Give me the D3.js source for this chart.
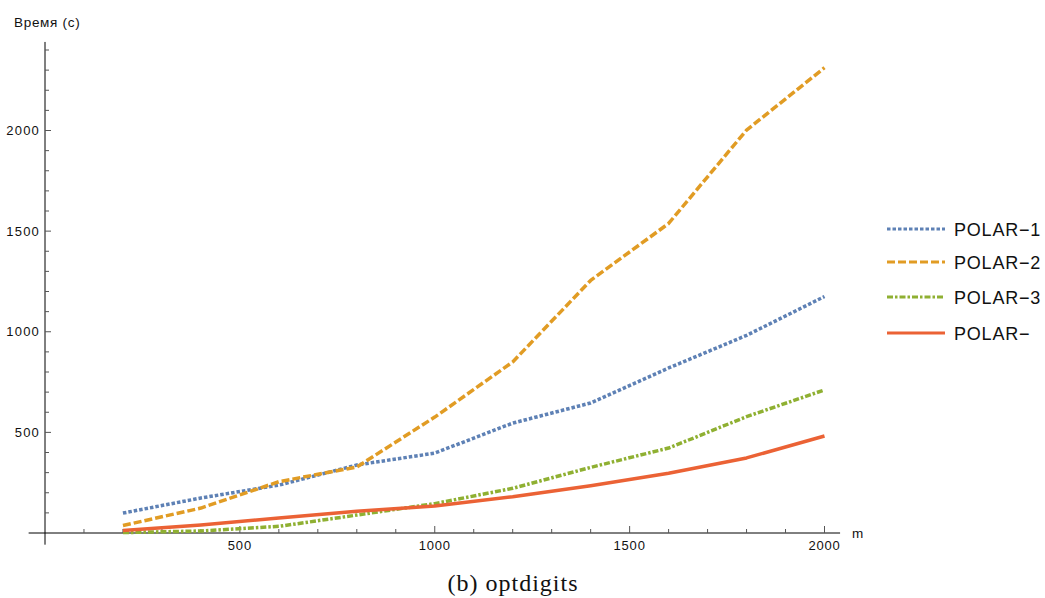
<!DOCTYPE html>
<html><head><meta charset="utf-8">
<script src="https://cdn.jsdelivr.net/npm/d3@7"></script>
<style>
body{margin:0;background:#fff;}
svg{display:block;}
.sans{font-family:"Liberation Sans",Arial,sans-serif;}
.serif{font-family:"Liberation Serif","DejaVu Serif",serif;}
</style></head>
<body>
<svg id="chart" width="1045" height="598"></svg>
<script>
const mValues = [200, 400, 600, 800, 1000, 1200, 1400, 1600, 1800, 2000];
const polar1 = [99, 174, 238, 338, 397, 546, 646, 820, 982, 1175];
const polar2 = [37, 124, 255, 328, 576, 850, 1255, 1538, 2002, 2312];
const polar3 = [2, 10, 33, 89, 146, 222, 326, 422, 578, 711];
const polarM = [12, 40, 75, 108, 134, 180, 235, 297, 373, 482];
const seriesNames = ["POLAR\u22121", "POLAR\u22122", "POLAR\u22123", "POLAR\u2212"];
const xTickLabels = [500, 1000, 1500, 2000];
const yTickLabels = [500, 1000, 1500, 2000];

const colors = ["#5E81B5", "#E19C24", "#8FB032", "#EB6235"];
const dashes = ["3.5,2", "8,3", "6,2,2.5,2", null];

const svg = d3.select("#chart");
const x = d3.scaleLinear().domain([0, 2000]).range([45, 824.5]);
const y = d3.scaleLinear().domain([0, 2000]).range([533, 130.5]);

const axisG = svg.append("g");
axisG.append("line").attr("x1", x(-42)).attr("x2", x(2040)).attr("y1", y(0)).attr("y2", y(0))
  .attr("stroke", "#000").attr("stroke-width", 1);
axisG.append("line").attr("x1", x(0)).attr("x2", x(0)).attr("y1", y(-58)).attr("y2", y(2440))
  .attr("stroke", "#000").attr("stroke-width", 1);

d3.range(100, 2001, 100).forEach(v => {
  const major = v % 500 === 0;
  axisG.append("line").attr("x1", x(v)).attr("x2", x(v))
    .attr("y1", y(0)).attr("y2", y(0) - (major ? 7 : 4))
    .attr("stroke", "#555").attr("stroke-width", 1);
});
d3.range(100, 2401, 100).forEach(v => {
  const major = v % 500 === 0;
  axisG.append("line").attr("y1", y(v)).attr("y2", y(v))
    .attr("x1", x(0)).attr("x2", x(0) + (major ? 6 : 4))
    .attr("stroke", "#555").attr("stroke-width", 1);
});
xTickLabels.forEach(v => {
  axisG.append("text").attr("class", "sans").attr("x", x(v)).attr("y", y(0) + 17)
    .attr("text-anchor", "middle").attr("font-size", 13).attr("letter-spacing", 0.8).attr("fill", "#111").text(v);
});
yTickLabels.forEach(v => {
  axisG.append("text").attr("class", "sans").attr("x", x(0) - 5).attr("y", y(v) + 4.5)
    .attr("text-anchor", "end").attr("font-size", 13).attr("letter-spacing", 1.2).attr("fill", "#111").text(v);
});
svg.append("text").attr("class", "sans").attr("x", 14).attr("y", 27).attr("font-size", 13.5)
  .attr("letter-spacing", 0.7).attr("fill", "#111").text("Время (с)");
svg.append("text").attr("class", "sans").attr("x", 852).attr("y", 538).attr("font-size", 13.5).attr("fill", "#111").text("m");

const allSeries = [polar1, polar2, polar3, polarM];
const line = d3.line().x(d => x(d[0])).y(d => y(d[1]));
allSeries.forEach((s, i) => {
  const pts = mValues.map((m, j) => [m, s[j]]);
  const p = svg.append("path").attr("d", line(pts)).attr("fill", "none")
    .attr("stroke", colors[i]).attr("stroke-width", 3.5).attr("stroke-linejoin", "round");
  if (dashes[i]) p.attr("stroke-dasharray", dashes[i]);
});

const legendY = [229, 262, 297, 333];
seriesNames.forEach((name, i) => {
  const g = svg.append("g");
  const l = g.append("line").attr("x1", 887).attr("x2", 945).attr("y1", legendY[i]).attr("y2", legendY[i])
    .attr("stroke", colors[i]).attr("stroke-width", 3);
  if (dashes[i]) l.attr("stroke-dasharray", dashes[i]);
  g.append("text").attr("class", "sans").attr("x", 954).attr("y", legendY[i] + 6.5).attr("font-size", 18)
    .attr("letter-spacing", 0.8).attr("fill", "#111").text(name);
});

svg.append("text").attr("class", "serif").attr("x", 513).attr("y", 591).attr("text-anchor", "middle")
  .attr("font-size", 24).attr("letter-spacing", 1).attr("fill", "#111").text("(b) optdigits");
</script>
</body></html>
